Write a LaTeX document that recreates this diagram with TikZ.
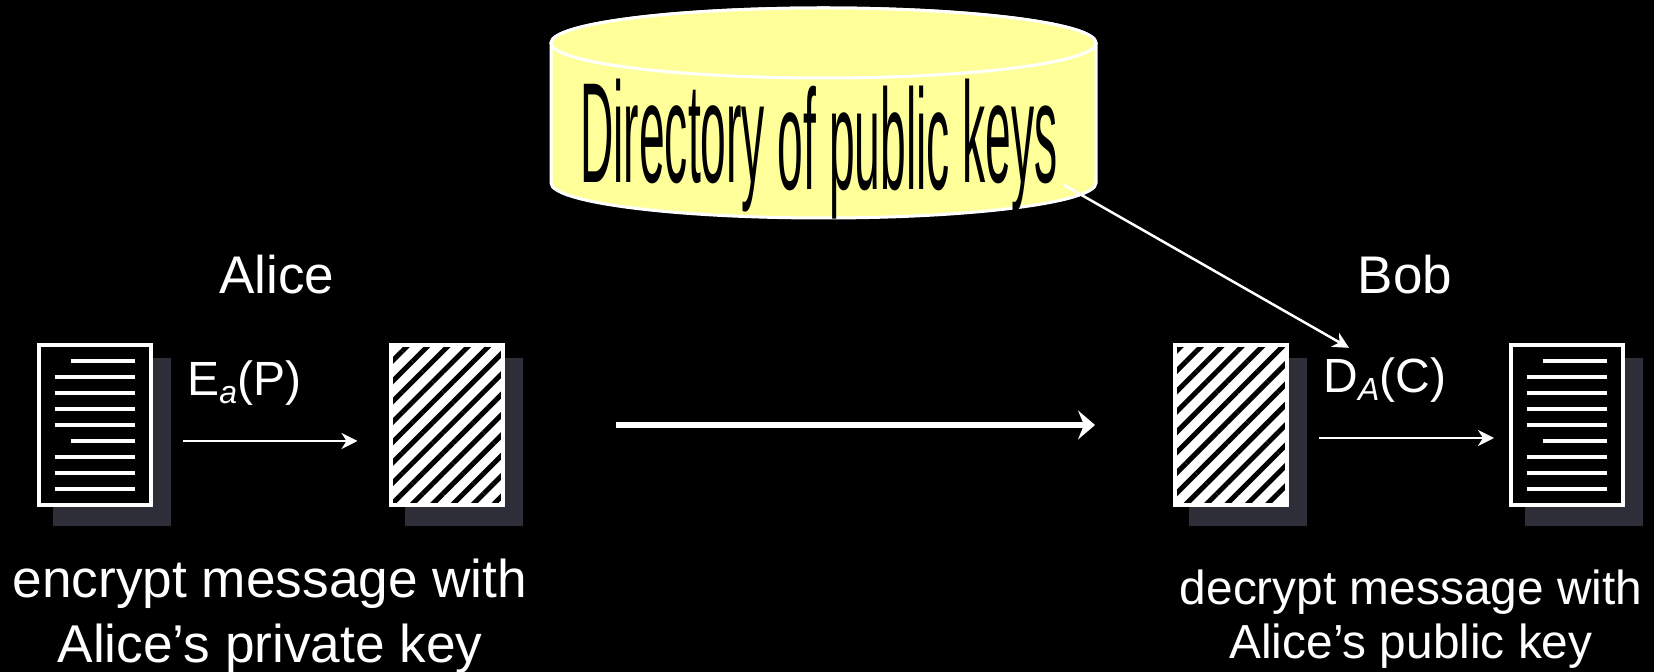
\documentclass[tikz,border=0pt]{standalone}
\usepackage{fontspec}
\usepackage{graphicx}
\setmainfont{Liberation Sans}
\usetikzlibrary{arrows.meta, patterns.meta, shadows, positioning}
\definecolor{shadowgrey}{HTML}{2E2E38}
\definecolor{diskyellow}{HTML}{FFFF99}

\begin{document}
\begin{tikzpicture}[x=0.5pt, y=-0.5pt, >={Stealth[inset=2.5pt, length=8pt, width=8pt]}, white]
    \tikzset{page/.style={draw=white, fill=black, line width=2pt, minimum width=56pt, minimum height=80pt, inner sep=0pt,
            drop shadow={shadow xshift=8pt, shadow yshift=-8pt, shadow scale=1.05, fill=shadowgrey, opacity=1}},
        cipher/.style={page, preaction={fill=white}, pattern={Lines[angle=45, distance=7.2pt, line width=2.5pt]}, pattern color=black},
        textline/.style={line width=2pt},
        label/.style={font=\fontsize{24}{29}\selectfont, text=white, inner sep=0pt}
    }
    \path [use as bounding box, fill=black] (0,0) rectangle (1654,672);

    \foreach \i / \xplain / \xcipher in {0/95/447, 1/1567/1231} {
        \node (P\i-Plain) [page] at (\xplain, 425) {};
        \node (P\i-Cipher) [cipher] at (\xcipher, 425) {};
        \foreach \y / \s in {-64/-24, -48/-40, -32/-40, -16/-40, 0/-40, 16/-24, 32/-40, 48/-40, 64/-40} {
            \draw [textline] ([shift={(\s,\y)}]P\i-Plain.center) -- ([shift={(40,\y)}]P\i-Plain.center);
        }
    }

    \draw [draw=white, fill=diskyellow, line width=1.5pt] (551, 43) arc [start angle=180, end angle=360, x radius=272.5, y radius=35]
        -- (1096, 183) arc [start angle=0, end angle=180, x radius=272.5, y radius=35] -- cycle;
    \draw [draw=white, fill=diskyellow, line width=1.5pt] (823.5, 43) ellipse [x radius=272.5, y radius=35];
    \node (Directory) [anchor=base, text=black, inner sep=0pt] at (819, 190)
        {\scalebox{0.77}[2.38]{\fontsize{30}{30}\selectfont \raisebox{1.6pt}{Directory} of public \raisebox{1.6pt}{keys}}};

    \node (Alice) [label, font=\fontsize{26.5}{30}\selectfont, anchor=base] at (277, 294) {Alice};
    \node (Bob) [label, font=\fontsize{26.5}{30}\selectfont, anchor=base] at (1405, 294) {Bob};
    \node (Encrypt) [label, anchor=base west, font=\fontsize{24}{28}\selectfont] at (187, 396) {E\raisebox{-4pt}{\fontsize{16}{16}\selectfont\itshape a}(P)};
    \node (Decrypt) [label, anchor=base west, font=\fontsize{24}{28}\selectfont] at (1323, 393) {D\raisebox{-4pt}{\fontsize{16}{16}\selectfont\itshape A}(C)};
    \node (EncNote) [label, align=center, font=\fontsize{26.6}{32.5}\selectfont] at (270, 616) {encrypt message with\\Alice’s private key};
    \node (DecNote) [label, align=center, font=\fontsize{23.9}{27}\selectfont] at (1411, 619) {decrypt message with\\Alice’s public key};

    \draw [->, line width=1.25pt, shorten <=15pt, shorten >=15.5pt] ([yshift=-8pt]P0-Plain.east) -- ([yshift=-8pt]P0-Cipher.west);
    \draw [->, line width=1.25pt, shorten <=15pt, shorten >=7.5pt] ([yshift=-6.5pt]P1-Cipher.east) -- ([yshift=-6.5pt]P1-Plain.west);
    \draw [-{Stealth[inset=3pt, length=8.5pt, width=14.5pt]}, line width=3pt, shorten <=55pt, shorten >=39pt] (P0-Cipher.east) -- (P1-Cipher.west);
    \draw [->, line width=1.25pt] ([shift={(245,-5)}]Directory.base) -- ([shift={(26,-10)}]Decrypt.north west);
\end{tikzpicture}
\end{document}
